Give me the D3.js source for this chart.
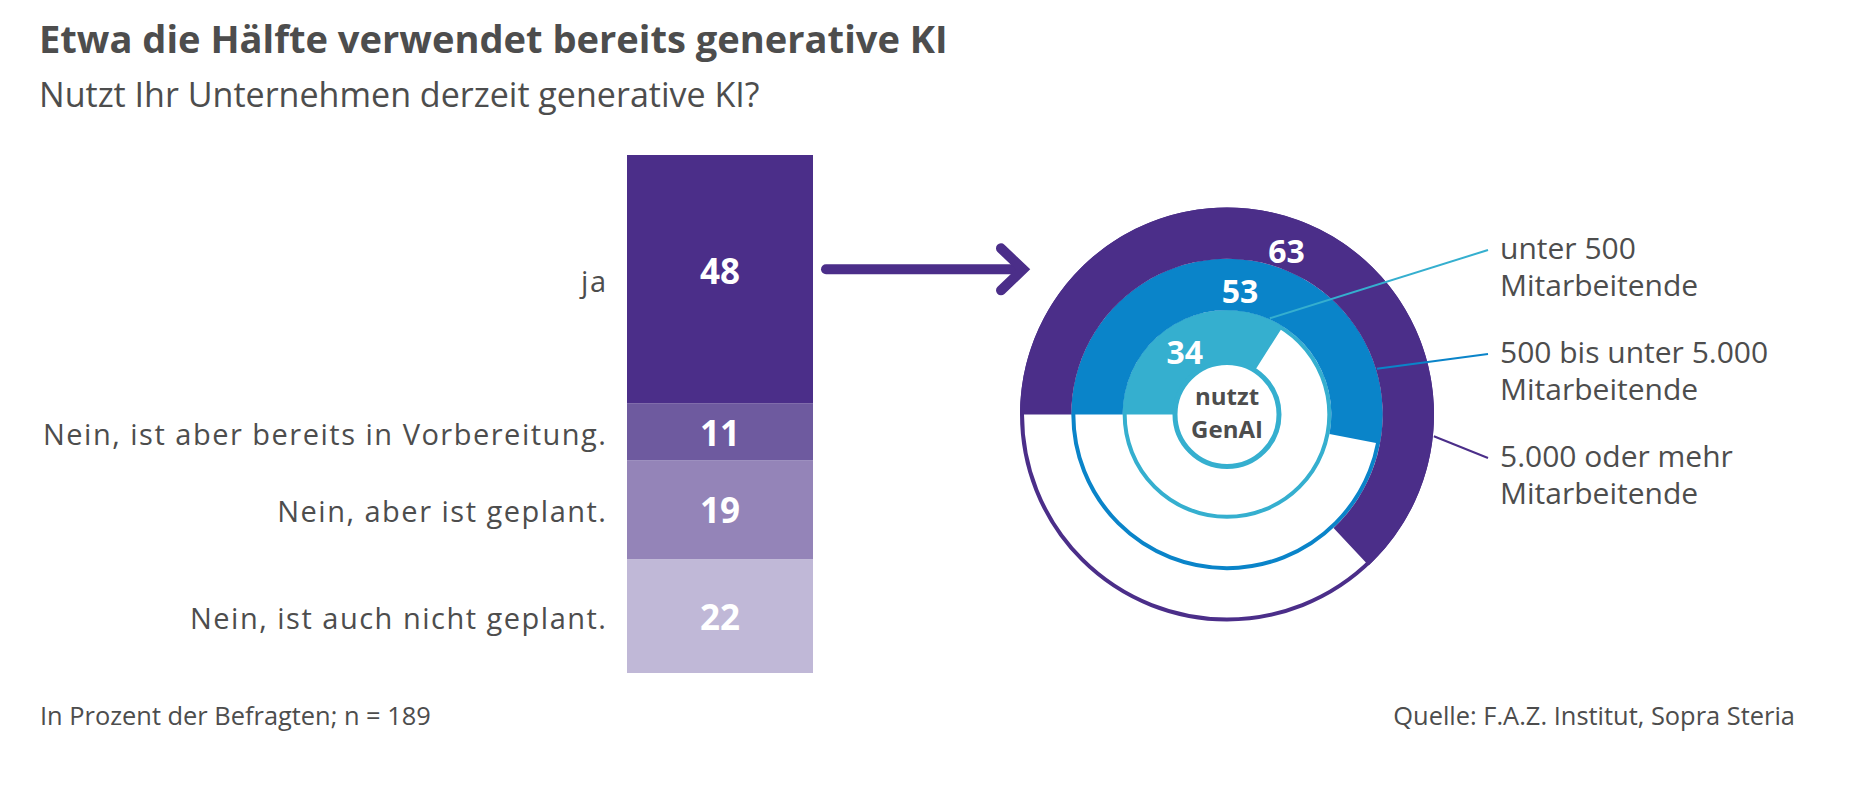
<!DOCTYPE html>
<html><head><meta charset="utf-8">
<script src="https://cdn.jsdelivr.net/npm/d3@7"></script>
<style>
body{margin:0;background:#fff}
svg{display:block}
text{font-family:"Open Sans",sans-serif;fill:#4d4d4d}
</style>
</head><body><svg id="c" width="1858" height="794"></svg>
<script>
// ---------- data ----------
const title = "Etwa die Hälfte verwendet bereits generative KI";
const subtitle = "Nutzt Ihr Unternehmen derzeit generative KI?";
const answers = ["ja", "Nein, ist aber bereits in Vorbereitung.", "Nein, aber ist geplant.", "Nein, ist auch nicht geplant."];
const answerValues = [48, 11, 19, 22];
const answerColors = ["#4b2e89", "#6e5a9f", "#9484b8", "#c0b8d7"];
const sizeClasses = [["unter 500", "Mitarbeitende"], ["500 bis unter 5.000", "Mitarbeitende"], ["5.000 oder mehr", "Mitarbeitende"]];
const sizeValues = [34, 53, 63];
const sizeColors = ["#35afcf", "#0a84c9", "#4b2e89"];
const centerLabel = ["nutzt", "GenAI"];
const footnote = "In Prozent der Befragten; n = 189";
const source = "Quelle: F.A.Z. Institut, Sopra Steria";

// ---------- setup ----------
const svg = d3.select("#c");
function fitWidth(t, w) {
  const l = t.node().getComputedTextLength();
  const fs = parseFloat(t.attr("font-size"));
  t.attr("font-size", fs * w / l);
}

// titles
fitWidth(svg.append("text").attr("x", 39).attr("y", 53).attr("font-size", 38).attr("font-weight", 700).text(title), 909);
fitWidth(svg.append("text").attr("x", 39).attr("y", 107).attr("font-size", 32).text(subtitle), 721);

// ---------- stacked bar ----------
const y = d3.scaleLinear().domain([0, 100]).range([155, 673]);
const xb = d3.scaleBand().domain(["Antworten"]).range([627, 813]).padding(0);
const ends = d3.cumsum(answerValues);
const segs = answers.map((a, i) => ({ label: a, value: answerValues[i], color: answerColors[i], y0: ends[i] - answerValues[i], y1: ends[i] }));

const bar = svg.append("g");
bar.selectAll("rect").data(segs).join("rect")
  .attr("x", xb("Antworten")).attr("width", xb.bandwidth())
  .attr("y", d => y(d.y0)).attr("height", d => y(d.y1) - y(d.y0))
  .attr("fill", d => d.color);

bar.selectAll("text.v").data(segs).join("text").attr("class", "v")
  .attr("x", xb("Antworten") + xb.bandwidth() / 2)
  .attr("y", (d, i) => (y(d.y0) + y(d.y1)) / 2 - (i === 0 ? 9 : 0))
  .attr("text-anchor", "middle").attr("dominant-baseline", "central")
  .attr("font-size", 35).attr("font-weight", 700).style("fill", "#fff")
  .text(d => d.value);

const labels = bar.selectAll("text.l").data(segs).join("text").attr("class", "l")
  .attr("x", 606)
  .attr("y", d => (y(d.y0) + y(d.y1)) / 2 + 1)
  .attr("text-anchor", "end").attr("dominant-baseline", "central")
  .attr("font-size", 29)
  .text(d => d.label);
// widen letter spacing so the longest label spans the reference width
{
  const n = labels.nodes()[1];
  const L = n.getComputedTextLength();
  const ls = (563 - L) / (answers[1].length - 1);
  labels.style("letter-spacing", ls + "px").attr("x", 606 + ls);
}

// ---------- arrow ----------
const arrowY = (y(segs[0].y0) + y(segs[0].y1)) / 2 - 10;
const ag = svg.append("g").attr("stroke", answerColors[0]).attr("stroke-width", 10).attr("fill", "none")
  .attr("stroke-linecap", "round").attr("stroke-linejoin", "miter");
ag.append("path").attr("d", d3.line()([[826, arrowY], [1020, arrowY]]));
ag.append("path").attr("d", d3.line()([[1001, arrowY - 21], [1023, arrowY], [1001, arrowY + 21]]));

// ---------- donut ----------
const cx = 1227, cy = 414.5;
const rInner = 53, rOuter = 207;
const ring = d3.scaleBand().domain(d3.range(sizeValues.length)).range([rInner, rOuter]).padding(0);
const ang = d3.scaleLinear().domain([0, 100]).range([-Math.PI / 2, 1.5 * Math.PI]);
const dg = svg.append("g").attr("transform", `translate(${cx},${cy})`);

const rings = sizeValues.map((v, i) => ({ v, i, color: sizeColors[i], r0: ring(i), r1: ring(i) + ring.bandwidth() }));

// outlines (unfilled parts)
dg.selectAll("circle.o").data(rings).join("circle").attr("class", "o")
  .attr("r", d => d.r1 - 2).attr("fill", "none").attr("stroke", d => d.color).attr("stroke-width", 4);

// filled arcs
const arc = d3.arc();
dg.selectAll("path.f").data(rings).join("path").attr("class", "f")
  .attr("d", d => arc({ innerRadius: d.r0, outerRadius: d.r1, startAngle: ang(0), endAngle: ang(d.v) }))
  .attr("fill", d => d.color);

// center circle
dg.append("circle").attr("r", rInner - 1).attr("fill", "#fff").attr("stroke", sizeColors[0]).attr("stroke-width", 5);
dg.selectAll("text.c").data(centerLabel).join("text").attr("class", "c")
  .attr("x", 0).attr("y", (d, i) => -10 + i * 33)
  .attr("text-anchor", "middle").attr("font-size", 24).attr("font-weight", 700)
  .text(d => d);

// value labels inside rings
const labelAngles = [-34, 6, 20]; // degrees, layout only
dg.selectAll("text.rv").data(rings).join("text").attr("class", "rv")
  .attr("x", d => Math.sin(labelAngles[d.i] * Math.PI / 180) * (d.r0 + d.r1) / 2 * 0.96)
  .attr("y", d => -Math.cos(labelAngles[d.i] * Math.PI / 180) * (d.r0 + d.r1) / 2 * 0.96)
  .attr("text-anchor", "middle").attr("dominant-baseline", "central")
  .attr("font-size", 32).attr("font-weight", 700).style("fill", "#fff")
  .text(d => d.v);

// leader lines and legend labels
const leaderAngles = [24, 73, 96]; // degrees, layout only
const legendX = 1500, legendY = [259, 363, 467];
rings.forEach(d => {
  const a = leaderAngles[d.i] * Math.PI / 180;
  const r = d.r1 + 1;
  svg.append("line")
    .attr("x1", cx + Math.sin(a) * r).attr("y1", cy - Math.cos(a) * r)
    .attr("x2", legendX - 12).attr("y2", legendY[d.i] - 9)
    .attr("stroke", d.color).attr("stroke-width", 2);
  const t = svg.append("text").attr("x", legendX).attr("y", legendY[d.i]).attr("font-size", 30);
  sizeClasses[d.i].forEach((s, k) => t.append("tspan").attr("x", legendX).attr("dy", k === 0 ? 0 : 37).text(s));
});

// ---------- footer ----------
fitWidth(svg.append("text").attr("x", 40).attr("y", 725).attr("font-size", 20).text(footnote), 391);
fitWidth(svg.append("text").attr("x", 1795).attr("y", 725).attr("text-anchor", "end").attr("font-size", 20).text(source), 402);
</script>
</body></html>
